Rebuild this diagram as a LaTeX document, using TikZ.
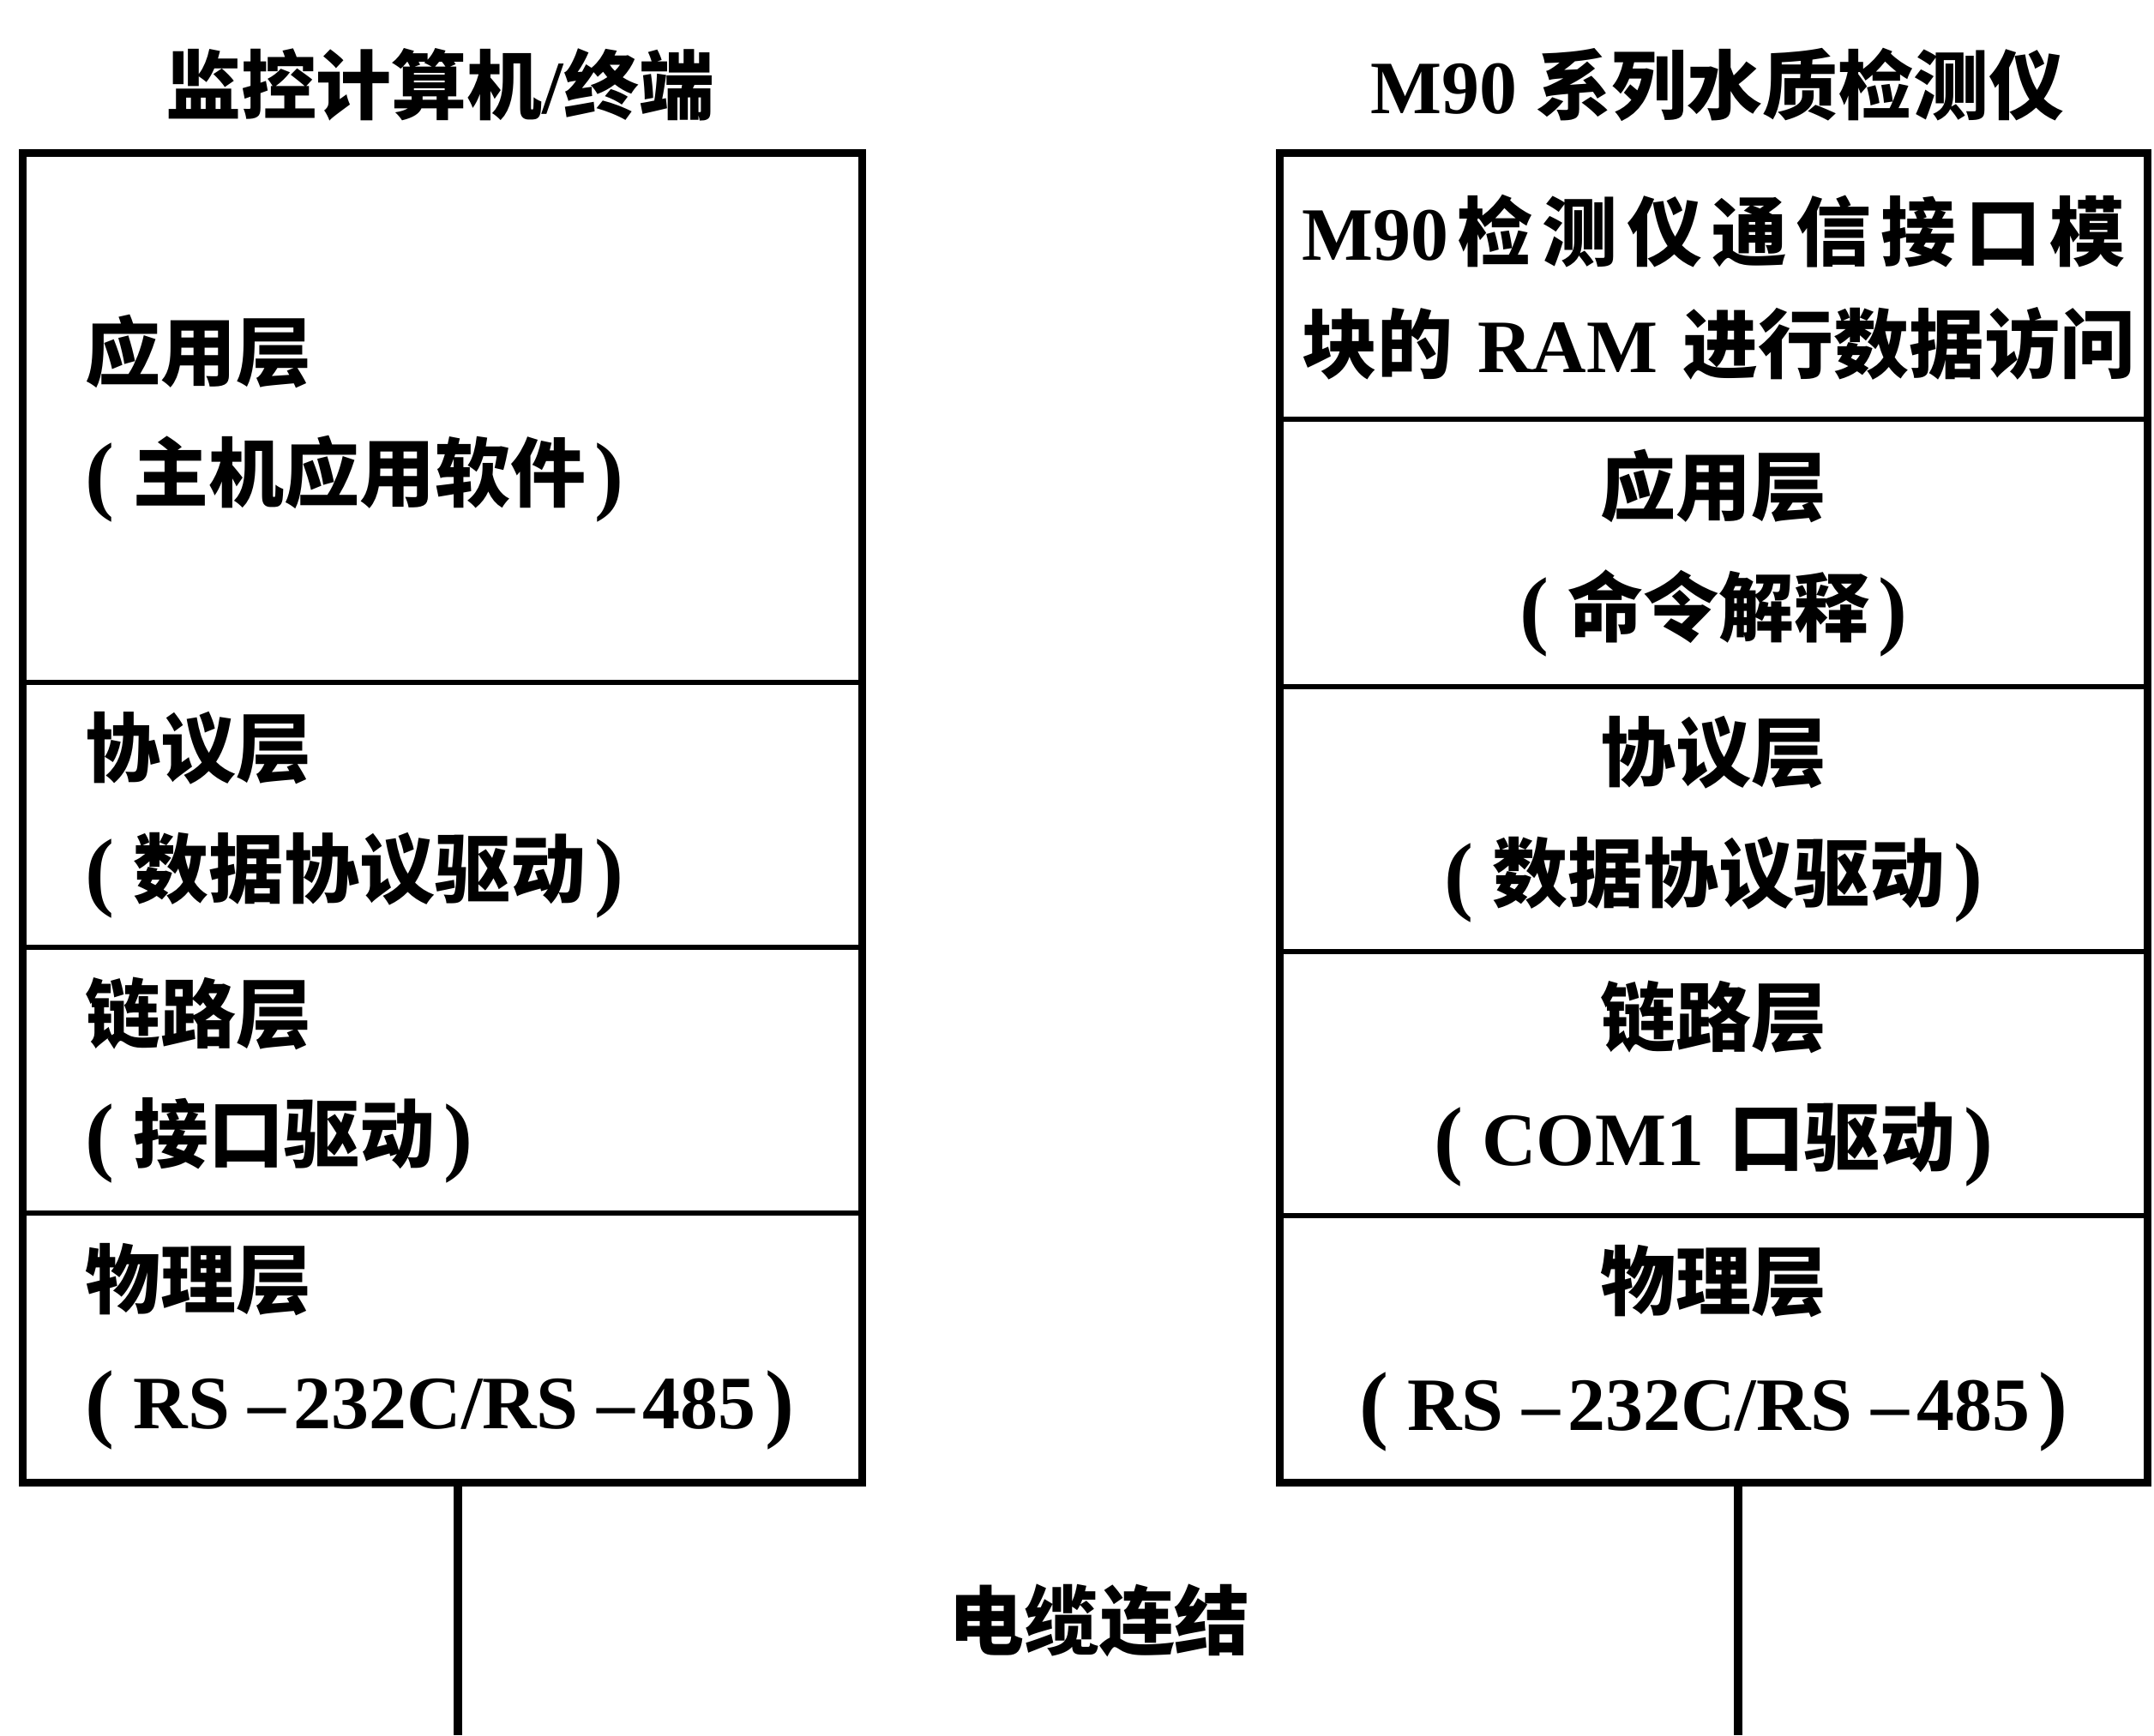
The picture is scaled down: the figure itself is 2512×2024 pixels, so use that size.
\documentclass[tikz,border=0pt]{standalone}
\usepackage{fontspec}
\setmainfont{Liberation Serif}
\newfontfamily\cjk{Noto Sans CJK SC}
\newcommand{\C}[1]{{\cjk #1}}
\newcommand{\LP}{{\fontsize{29}{40}\selectfont\raisebox{-0.03em}{(}}\hspace{0.25em}}
\newcommand{\RP}{\hspace{0.12em}{\fontsize{29}{40}\selectfont\raisebox{-0.03em}{)}}}
\newcommand{\DS}{\hspace{0.25em}–\hspace{0.1em}}
\begin{document}
\begin{tikzpicture}[x=0.01cm,y=-0.01cm,
  font=\bfseries\fontsize{25}{40}\selectfont,
  lbox/.style={draw,line width=1.4pt,inner xsep=0.71cm,inner ysep=0pt,text width=8.32cm,align=left,minimum width=9.74cm},
  rbox/.style={draw,line width=1.4pt,inner xsep=0.2cm,inner ysep=0pt,text width=9.67cm,align=center,minimum width=10.07cm},
  outer/.style={draw,line width=2.4pt},
  cable/.style={draw,line width=2.6pt},
  title/.style={font=\bfseries\fontsize{25}{30}\selectfont}]
\fill[white] (0,0) rectangle (2512,2024);
\useasboundingbox (0,0) rectangle (2512,2024);

\node[title] (tL) at (513,99) {\C{监控计算机}/\C{终端}};
\node[title] (tR) at (2003,99) {M90 \C{系列水质检测仪}};

% left stack
\node[lbox,minimum height=6.15cm] (Lapp) at (516,488.5) {\C{应用层}\\\LP\C{主机应用软件}\RP};
\node[lbox,minimum height=3.09cm] (Lpro) at (516,950.5) {\C{协议层}\\\LP\C{数据协议驱动}\RP};
\node[lbox,minimum height=3.10cm] (Llink) at (516,1260) {\C{链路层}\\\LP\C{接口驱动}\RP};
\node[lbox,minimum height=3.12cm] (Lphys) at (516,1571) {\C{物理层}\\\makebox[0pt][l]{\LP RS\DS 232C/RS\DS 485\RP}};
\draw[outer] (Lapp.north west) rectangle (Lphys.south east);

% right stack
\node[rbox,minimum height=3.08cm] (Rtop) at (1998.5,335) {\makebox[9.6cm][s]{M90\hfill\C{检}\hfill\C{测}\hfill\C{仪}\hfill\C{通}\hfill\C{信}\hfill\C{接}\hfill\C{口}\hfill\C{模}}\\[-0.1cm]\makebox[9.6cm][s]{\C{块的} RAM \C{进}\hfill\C{行}\hfill\C{数}\hfill\C{据}\hfill\C{访}\hfill\C{问}}};
\node[rbox,minimum height=3.12cm] (Rapp) at (1998.5,645) {\C{应用层}\\\LP\C{命令解释}\RP};
\node[rbox,minimum height=3.09cm] (Rpro) at (1998.5,955.5) {\C{协议层}\\\LP\C{数据协议驱动}\RP};
\node[rbox,minimum height=3.08cm] (Rlink) at (1998.5,1264) {\C{链路层}\\\LP COM1 \C{口驱动}\RP};
\node[rbox,minimum height=3.09cm] (Rphys) at (1998.5,1572.5) {\C{物理层}\\\LP RS\DS 232C/RS\DS 485\RP};
\draw[outer] (Rtop.north west) rectangle (Rphys.south east);

% cables
\coordinate (cL) at (534,2024);
\coordinate (cR) at (2027,2024);
\draw[cable] (Lphys.south -| cL) -- (cL);
\draw[cable] (Rphys.south -| cR) -- (cR);
\node (cab) at (1282,1890) {\C{电缆连结}};
\end{tikzpicture}
\end{document}
